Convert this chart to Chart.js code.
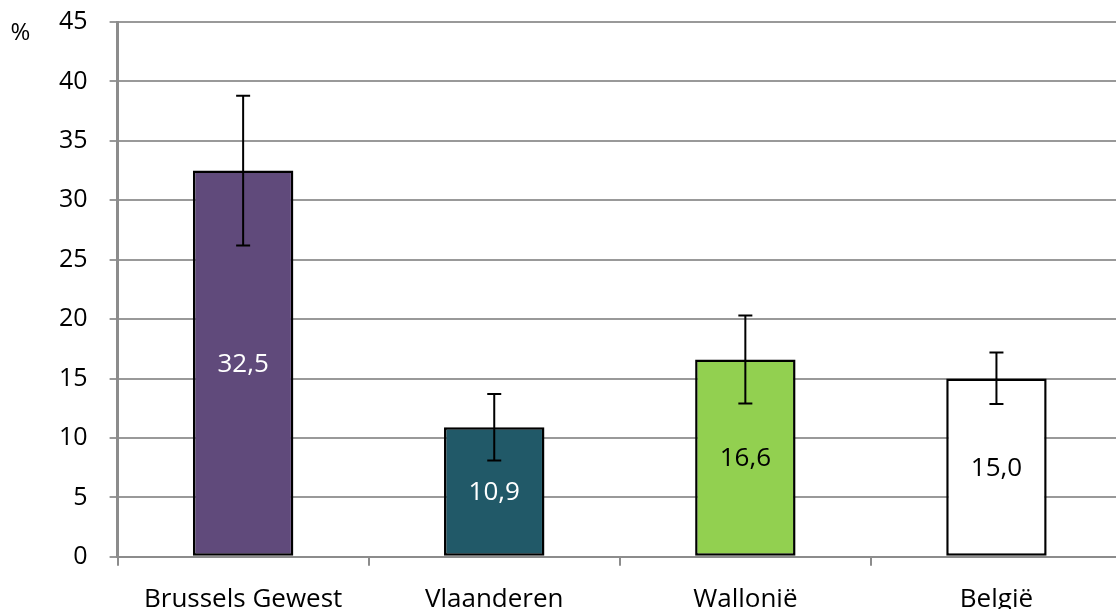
<!DOCTYPE html>
<html>
<head>
<meta charset="utf-8">
<script src="https://cdn.jsdelivr.net/npm/chart.js@4.4.1/dist/chart.umd.min.js"></script>
<style>
  html, body { margin: 0; padding: 0; background: #fff; overflow: hidden; }
  #wrap { position: absolute; left: 0; top: -15px; width: 1122px; height: 648px; }
</style>
</head>
<body>
<div id="wrap"><canvas id="myChart"></canvas></div>
<script>
'use strict';

var regions = ['Brussels Gewest', 'Vlaanderen', 'Wallonië', 'België'];
var percents = [32.5, 10.9, 16.6, 15.0];
var errLow = [26.2, 8.1, 12.9, 12.85];
var errHigh = [38.8, 13.7, 20.3, 17.2];
var barColors = ['#604a7b', '#215968', '#92d050', '#ffffff'];
var labelColors = ['#ffffff', '#ffffff', '#000000', '#000000'];
var yTicks = [0, 5, 10, 15, 20, 25, 30, 35, 40, 45];

var fontName = '"Open Sans", "Noto Sans", sans-serif';

// error bars drawn from the y scale
var errorBars = {
  id: 'errorBars',
  afterDatasetsDraw: function (chart) {
    var ctx = chart.ctx;
    var yScale = chart.scales.y;
    var meta = chart.getDatasetMeta(0);
    ctx.save();
    ctx.strokeStyle = '#000';
    ctx.lineWidth = 2;
    for (var i = 0; i < meta.data.length; i++) {
      var x = meta.data[i].x;
      var top = yScale.getPixelForValue(errHigh[i]);
      var bottom = yScale.getPixelForValue(errLow[i]);
      ctx.beginPath();
      ctx.moveTo(x, top);
      ctx.lineTo(x, bottom);
      ctx.moveTo(x - 7, top);
      ctx.lineTo(x + 7, top);
      ctx.moveTo(x - 7, bottom);
      ctx.lineTo(x + 7, bottom);
      ctx.stroke();
    }
    ctx.restore();
  }
};

// value labels in the middle of each bar
var barLabels = {
  id: 'barLabels',
  afterDraw: function (chart) {
    var ctx = chart.ctx;
    var meta = chart.getDatasetMeta(0);
    ctx.save();
    ctx.font = '26px ' + fontName;
    ctx.textAlign = 'center';
    ctx.textBaseline = 'middle';
    for (var i = 0; i < meta.data.length; i++) {
      var bar = meta.data[i];
      ctx.fillStyle = labelColors[i];
      ctx.fillText(percents[i].toFixed(1).replace('.', ','), bar.x, (bar.y + bar.base) / 2 + 1);
    }
    // unit
    ctx.fillStyle = '#000';
    ctx.font = '24px ' + fontName;
    ctx.textAlign = 'left';
    ctx.fillText('%', chart.chartArea.left - 107, chart.chartArea.top + 11);
    ctx.restore();
  }
};

var ctx = document.getElementById('myChart').getContext('2d');
var chart = new Chart(ctx, {
  type: 'bar',
  data: {
    labels: regions,
    datasets: [{
      data: percents,
      backgroundColor: barColors,
      borderColor: '#000',
      borderWidth: 2.5,
      borderSkipped: false,
      barPercentage: 0.4,
      categoryPercentage: 1
    }]
  },
  options: {
    responsive: true,
    maintainAspectRatio: false,
    animation: false,
    devicePixelRatio: 1,
    layout: { padding: { left: 37, top: 0, right: 0, bottom: 0 } },
    plugins: {
      legend: { display: false },
      tooltip: { enabled: false }
    },
    scales: {
      x: {
        grid: {
          offset: true,
          drawOnChartArea: false,
          drawTicks: true,
          tickLength: 9,
          color: '#8c8c8c',
          lineWidth: 2
        },
        border: { color: '#8c8c8c', width: 2 },
        ticks: {
          color: '#000',
          padding: 18,
          font: { family: fontName, size: 26 }
        }
      },
      y: {
        min: 0,
        max: 45,
        afterBuildTicks: function (axis) {
          axis.ticks = yTicks.map(function (v) { return { value: v }; });
        },
        grid: {
          color: '#999999',
          lineWidth: 2,
          tickLength: 8
        },
        border: { color: '#8c8c8c', width: 3 },
        ticks: {
          color: '#000',
          padding: 22,
          font: { family: fontName, size: 25 }
        }
      }
    }
  },
  plugins: [errorBars, barLabels]
});
</script>
</body>
</html>
